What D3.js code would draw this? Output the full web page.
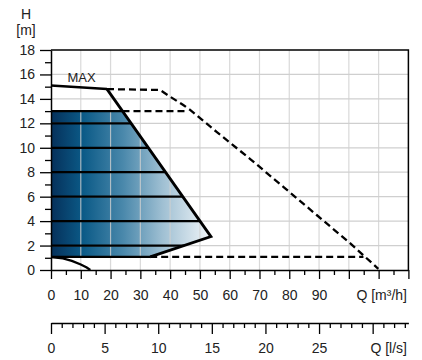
<!DOCTYPE html>
<html>
<head>
<meta charset="utf-8">
<script src="https://cdn.jsdelivr.net/npm/d3@7"></script>
<style>
  body { margin: 0; background: #fff; }
  text { font-family: Arial, "Liberation Sans", sans-serif; fill: #222; }
</style>
</head>
<body>
<script>
// pump curve, values (Q in m3/h, H in m)
var maxSolidQ = [0, 18.8];
var maxSolidH = [15.1, 14.8];
var maxDashQ = [18.8, 36.6, 40.0, 44.4, 46.7, 55.6, 66.8, 78.0, 89.2, 100.4, 104.9, 109.9];
var maxDashH = [14.8, 14.73, 14.18, 13.5, 13.1, 11.3, 9.1, 6.8, 4.5, 2.2, 1.2, 0.1];

// operating area (shaded)
var areaQ = [0, 24.0, 53.7, 33.3, 0];
var areaH = [13, 13, 2.73, 1.07, 1.07];
var edgeQ = [18.8, 53.7, 33.3];
var edgeH = [14.8, 2.73, 1.07];
var levelH = [2, 4, 6, 8, 10, 12, 13];

var dash13Q = [24.0, 46.1];
var dash13H = [13, 13];
var dash1Q = [33.3, 104.9];
var dash1H = [1.07, 1.07];

var minQ = [0, 4, 7, 10, 12, 13.2];
var minH = [1.05, 0.95, 0.75, 0.45, 0.2, 0];

var yTicks = [0, 2, 4, 6, 8, 10, 12, 14, 16, 18];
var qTicks = [0, 10, 20, 30, 40, 50, 60, 70, 80, 90, 100, 110, 120];
var lsTicks = [0, 5, 10, 15, 20, 25, 30];

var width = 422, height = 360;
var margin = {left: 51, right: 14, top: 50, bottom: 90};

var x = d3.scaleLinear().domain([0, 120]).range([margin.left, width - margin.right + 0.4]);
var y = d3.scaleLinear().domain([0, 18]).range([270, margin.top]);
var xls = d3.scaleLinear().domain([0, 120 / 3.6]).range(x.range());

var svg = d3.select("body").append("svg").attr("width", width).attr("height", height);

function pts(qs, hs) { return qs.map(function(q, i) { return [q, hs[i]]; }); }
var line = d3.line().x(function(d) { return x(d[0]); }).y(function(d) { return y(d[1]); });

// gradient for the operating area
var grad = svg.append("defs").append("linearGradient")
    .attr("id", "blue")
    .attr("gradientUnits", "userSpaceOnUse")
    .attr("x1", x(0)).attr("x2", x(53.7)).attr("y1", 0).attr("y2", 0);
grad.append("stop").attr("offset", "0").attr("stop-color", "#05305a");
grad.append("stop").attr("offset", "0.2").attr("stop-color", "#0b5a87");
grad.append("stop").attr("offset", "0.45").attr("stop-color", "#4a88ab");
grad.append("stop").attr("offset", "0.7").attr("stop-color", "#a0c0d3");
grad.append("stop").attr("offset", "1").attr("stop-color", "#f2f6f9");

svg.append("path")
    .attr("d", line(pts(areaQ, areaH)) + "Z")
    .attr("fill", "url(#blue)");

// grid
var grid = svg.append("g").attr("stroke", "#cfcfcf").attr("stroke-width", 1.2);
grid.selectAll(".gx").data(qTicks.slice(1, -1)).enter().append("line")
    .attr("x1", x).attr("x2", x).attr("y1", y(0)).attr("y2", y(18))
    .attr("stroke-opacity", 0.8);
grid.selectAll(".gy").data(yTicks.slice(1, -1)).enter().append("line")
    .attr("y1", y).attr("y2", y).attr("x1", x(0)).attr("x2", x(120));

// frame top + right
svg.append("path")
    .attr("d", "M" + x(0) + "," + y(18) + "H" + x(120) + "V" + y(0))
    .attr("fill", "none").attr("stroke", "#000").attr("stroke-width", 1.5);

// horizontal lines inside the area, each ends on the right edge
function rightEdgeQ(h) {
  for (var i = 0; i < edgeQ.length - 1; i++) {
    var h0 = edgeH[i], h1 = edgeH[i + 1];
    if ((h - h0) * (h - h1) <= 0) {
      return edgeQ[i] + (h - h0) / (h1 - h0) * (edgeQ[i + 1] - edgeQ[i]);
    }
  }
  return 0;
}
var curves = svg.append("g").attr("fill", "none").attr("stroke", "#000");
curves.selectAll(".lvl").data(levelH).enter().append("line")
    .attr("x1", x(0)).attr("x2", function(d) { return x(rightEdgeQ(d)); })
    .attr("y1", y).attr("y2", y)
    .attr("stroke-width", 2.3);

curves.append("path").attr("d", line(pts([0, 33.3], [1.07, 1.07]))).attr("stroke-width", 2.3);
curves.append("path").attr("d", line(pts(edgeQ, edgeH))).attr("stroke-width", 2.8)
    .attr("stroke-linejoin", "miter");
curves.append("path").attr("d", line(pts(maxSolidQ, maxSolidH))).attr("stroke-width", 2.5);
curves.append("path").attr("d", line(pts(minQ, minH))).attr("stroke-width", 2.3);

var dashed = [pts(maxDashQ, maxDashH), pts(dash13Q, dash13H), pts(dash1Q, dash1H)];
curves.selectAll(".dash").data(dashed).enter().append("path")
    .attr("d", line)
    .attr("stroke-width", 2.3)
    .attr("stroke-dasharray", "7,4");

// axes
function styleAxis(g) {
  g.selectAll("path.domain").attr("stroke", "#000").attr("stroke-width", 1.5);
  g.selectAll(".tick line").attr("stroke", "#000").attr("stroke-width", 1.3);
  g.selectAll("text").attr("fill", "#222").style("font-size", "14px")
    .style("font-family", "Arial, 'Liberation Sans', sans-serif");
}

var yMinor = svg.append("g").attr("transform", "translate(" + x(0) + ",0)")
    .call(d3.axisLeft(y).tickValues(d3.range(1, 18, 2)).tickSize(6).tickFormat(""));
yMinor.select(".domain").remove();
styleAxis(yMinor);
var yAxis = svg.append("g").attr("transform", "translate(" + x(0) + ",0)")
    .call(d3.axisLeft(y).tickValues(yTicks).tickSize(11).tickSizeOuter(0).tickPadding(5));
styleAxis(yAxis);

var xMinor = svg.append("g").attr("transform", "translate(0," + y(0) + ")")
    .call(d3.axisBottom(x).tickValues(d3.range(5, 120, 10)).tickSize(5).tickFormat(""));
xMinor.select(".domain").remove();
styleAxis(xMinor);
var xAxis = svg.append("g").attr("transform", "translate(0," + y(0) + ")")
    .call(d3.axisBottom(x).tickValues(qTicks).tickSize(9).tickSizeOuter(0).tickPadding(11)
      .tickFormat(function(d) { return d <= 90 ? d : ""; }));
styleAxis(xAxis);

var lsY = 323;
var lsMinor = svg.append("g").attr("transform", "translate(0," + lsY + ")")
    .call(d3.axisBottom(xls).tickValues(d3.range(1, 34).filter(function(d) { return d % 5; }))
      .tickSize(5).tickFormat(""));
lsMinor.select(".domain").remove();
styleAxis(lsMinor);
var lsAxis = svg.append("g").attr("transform", "translate(0," + lsY + ")")
    .call(d3.axisBottom(xls).tickValues(lsTicks).tickSize(11).tickSizeOuter(0).tickPadding(9)
      .tickFormat(function(d) { return d <= 25 ? d : ""; }));
styleAxis(lsAxis);

// labels
svg.append("text").attr("x", 26).attr("y", 19).attr("text-anchor", "middle")
    .style("font-size", "14px").text("H");
svg.append("text").attr("x", 26).attr("y", 35).attr("text-anchor", "middle")
    .style("font-size", "14px").text("[m]");
svg.append("text").attr("x", 67.5).attr("y", 81.5)
    .style("font-size", "13px").text("MAX");
svg.append("text").attr("x", 407).attr("y", 300).attr("text-anchor", "end")
    .style("font-size", "14px").text("Q [m³/h]");
svg.append("text").attr("x", 407).attr("y", 353).attr("text-anchor", "end")
    .style("font-size", "14px").text("Q [l/s]");
</script>
</body>
</html>
